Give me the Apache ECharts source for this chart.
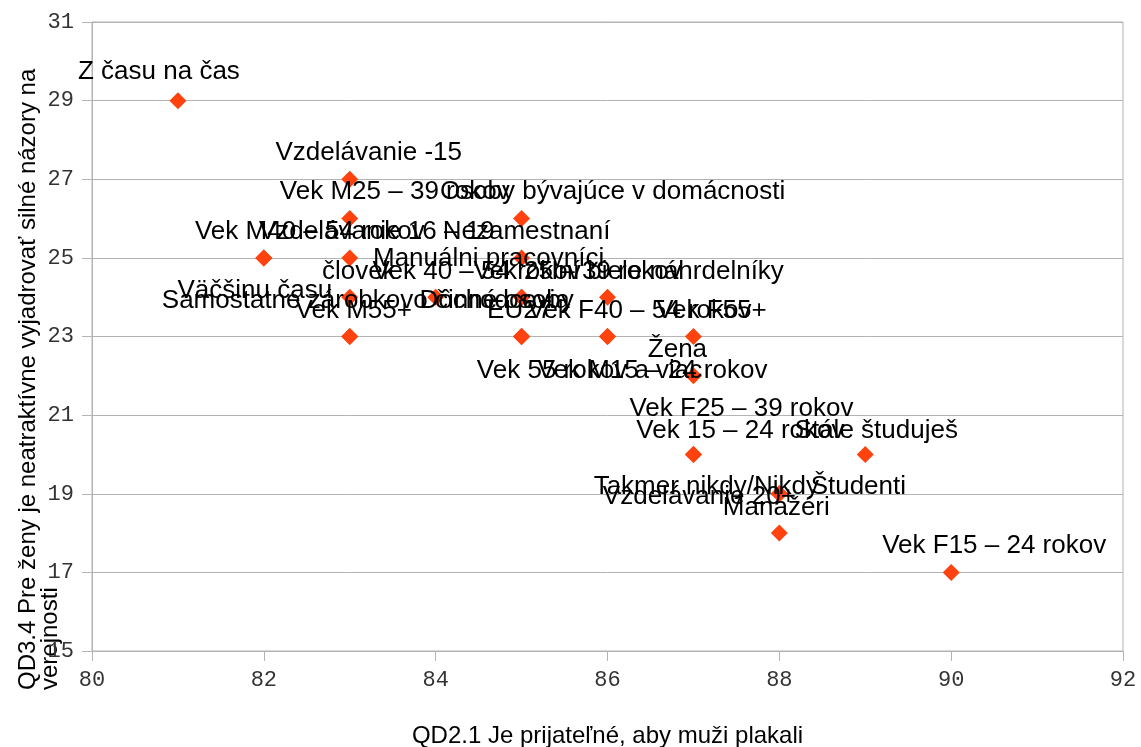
<!DOCTYPE html>
<html>
<head>
<meta charset="utf-8">
<title>QD2.1 vs QD3.4</title>
<script src="https://cdn.jsdelivr.net/npm/echarts@6/dist/echarts.min.js"></script>
<style>
  html, body { margin: 0; padding: 0; background: #fff; }
  #chart { width: 1141px; height: 747px; }
</style>
</head>
<body>
<div id="chart"></div>
<script>
// hodnoty odčítané z grafu
const names = [
  'Z času na čas', 'Vzdelávanie -15', 'Vek M25 – 39 rokov', 'Osoby bývajúce v domácnosti',
  'Vek M40 – 54 rokov', 'Vzdelávanie 16 – 19', 'Nezamestnaní', 'Manuálni pracovníci',
  'človek', 'Vek 40 – 54 rokov', 'Vek 25 – 39 rokov', 'Iní biele náhrdelníky',
  'Väčšinu času', 'Samostatne zárobkovo činné osoby', 'Dôchodcovia', 'Vek M55+',
  'EU27', 'Vek F40 – 54 rokov', 'Vek F55+', 'Žena',
  'Vek 55 rokov a viac', 'Vek M15 – 24 rokov', 'Vek F25 – 39 rokov', 'Vek 15 – 24 rokov',
  'Stále študuješ', 'Takmer nikdy/Nikdy', 'Študenti', 'Vzdelávanie 20+',
  'Manažéri', 'Vek F15 – 24 rokov'
];
const xValues = [
  81, 83, 83, 85,
  82, 83, 85, 85,
  83, 84, 85, 86,
  82, 83, 85, 83,
  85, 86, 87, 87,
  85, 86, 87, 87,
  89, 88, 88, 88,
  88, 90
];
const yValues = [
  29, 27, 26, 26,
  25, 25, 25, 24,
  24, 24, 24, 24,
  25, 23, 23, 23,
  23, 23, 23, 22,
  23, 23, 20, 20,
  20, 19, 19, 19,
  18, 17
];
const xTicks = [80, 82, 84, 86, 88, 90, 92];
const yTicks = [15, 17, 19, 21, 23, 25, 27, 29, 31];

// posun popiskov (px) – prekrývanie ako v pôvodnom grafe
const labelDx = [
  -19, 19, 45, 91,
  46, 27, 5, -33,
  9, 41, 56, 60,
  -9, 18, -27, 4,
  -2, 32, 18, -16,
  68, 45, 48, 47,
  11, -73, 79, -80,
  -3, 43
];
const labelDy = [
  -2, 0, 0, 0,
  0, 0, 0, -12,
  1, 1, 1, 1,
  59, -9, -9, 1,
  1, 1, 1, 1,
  61, 61, -19, 3,
  3, 20, 20, 30,
  1, 0
];

const chart = echarts.init(document.getElementById('chart'));

const points = names.map((n, i) => ({
  name: n,
  value: [xValues[i], yValues[i]]
}));

const gridColor = '#b3b3b3';

const option = {
  animation: false,
  backgroundColor: '#fff',
  grid: {
    left: 92,
    right: 18,
    top: 22,
    bottom: 96,
    containLabel: false,
    outerBoundsMode: 'none',
    show: true,
    borderColor: gridColor,
    borderWidth: 1
  },
  xAxis: {
    type: 'value',
    min: xTicks[0],
    max: xTicks[xTicks.length - 1],
    interval: 2,
    name: 'QD2.1 Je prijateľné, aby muži plakali',
    nameLocation: 'middle',
    nameGap: 73,
    nameTextStyle: { fontFamily: 'Liberation Sans', fontSize: 24, color: '#000' },
    axisLine: { lineStyle: { color: gridColor } },
    axisTick: { show: true, length: 10, lineStyle: { color: gridColor } },
    axisLabel: { fontFamily: 'Liberation Mono', fontSize: 22, color: '#333', margin: 18 },
    splitLine: { show: false }
  },
  yAxis: {
    type: 'value',
    min: yTicks[0],
    max: yTicks[yTicks.length - 1],
    interval: 2,
    axisLine: { show: true, lineStyle: { color: gridColor } },
    axisTick: { show: true, length: 10, lineStyle: { color: gridColor } },
    axisLabel: { fontFamily: 'Liberation Mono', fontSize: 22, color: '#333', margin: 18 },
    splitLine: { show: true, lineStyle: { color: gridColor } }
  },
  graphic: [
    {
      type: 'text',
      x: 39,
      y: 690,
      rotation: Math.PI / 2,
      style: {
        text: 'QD3.4 Pre ženy je neatraktívne vyjadrovať silné názory na\nverejnosti',
        font: '24px "Liberation Sans"',
        fill: '#000',
        textAlign: 'left',
        textVerticalAlign: 'middle',
        lineHeight: 22
      }
    }
  ],
  series: [
    {
      type: 'scatter',
      symbol: 'diamond',
      symbolSize: 17,
      itemStyle: { color: '#ff420e', opacity: 1 },
      data: points,
      label: {
        show: true,
        position: 'top',
        distance: 5,
        formatter: '{b}',
        fontFamily: 'Liberation Sans',
        fontSize: 26,
        color: '#000'
      },
      labelLayout: function (params) {
        return {
          dx: labelDx[params.dataIndex],
          dy: labelDy[params.dataIndex],
          hideOverlap: false
        };
      }
    }
  ]
};

chart.setOption(option);
</script>
</body>
</html>
